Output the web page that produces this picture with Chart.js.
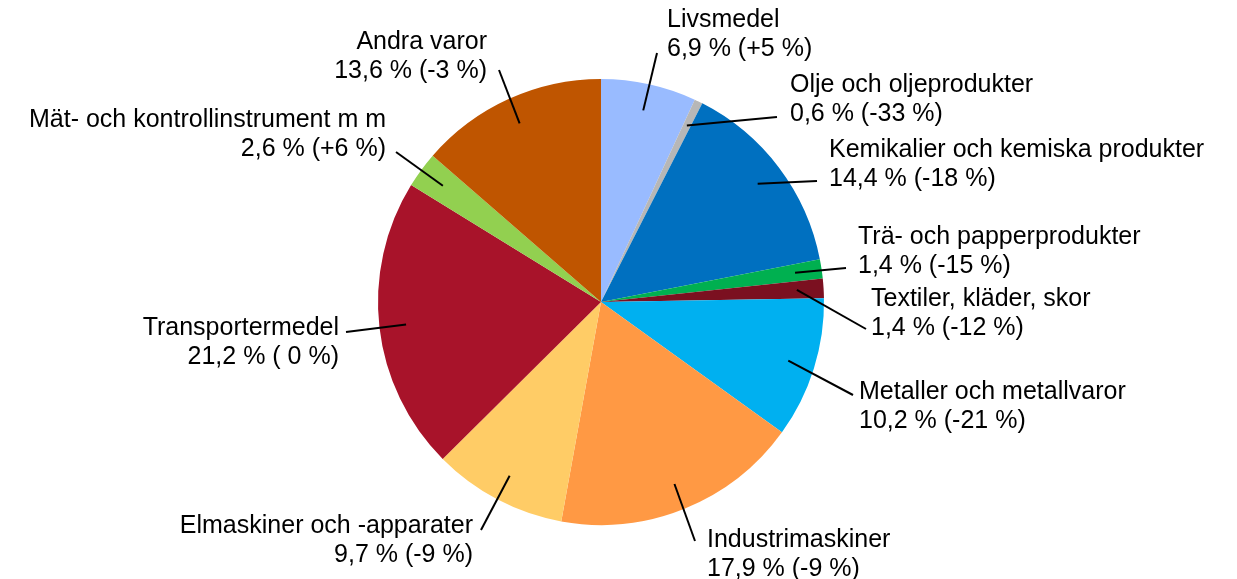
<!DOCTYPE html>
<html lang="sv">
<head>
<meta charset="utf-8">
<title>Varuexport</title>
<script src="https://cdn.jsdelivr.net/npm/chart.js@4/dist/chart.umd.min.js"></script>
<style>
    html, body { margin: 0; padding: 0; background: #fff; }
    #wrap { width: 1237px; height: 579px; }
</style>
</head>
<body>
<div id="wrap"><canvas id="pie" width="1237" height="579"></canvas></div>
<script>
const categories = [
    'Livsmedel',
    'Olje och oljeprodukter',
    'Kemikalier och kemiska produkter',
    'Trä- och papperprodukter',
    'Textiler, kläder, skor',
    'Metaller och metallvaror',
    'Industrimaskiner',
    'Elmaskiner och -apparater',
    'Transportermedel',
    'Mät- och kontrollinstrument m m',
    'Andra varor',
];
const shares = [6.9, 0.6, 14.4, 1.4, 1.4, 10.2, 17.9, 9.7, 21.2, 2.6, 13.6];
const changes = [5, -33, -18, -15, -12, -21, -9, -9, 0, 6, -3];
const colors = ['#99bbff', '#b7b7b7', '#0070c0', '#00b050', '#7b1020', '#00b0f0',
    '#ff9944', '#ffcc66', '#a8132a', '#92d050', '#bf5500'];

// label placement: text anchor x, first line centre y, alignment, leader end point
const labelLayout = [
    { x: 667, y: 20, align: 'left', lx: 657, ly: 53 },
    { x: 790, y: 85, align: 'left', lx: 777, ly: 117 },
    { x: 829, y: 150, align: 'left', lx: 817, ly: 181 },
    { x: 858, y: 237, align: 'left', lx: 846, ly: 268 },
    { x: 871, y: 299, align: 'left', lx: 866, ly: 329 },
    { x: 859, y: 392, align: 'left', lx: 853, ly: 395 },
    { x: 707, y: 540, align: 'left', lx: 695, ly: 541 },
    { x: 473, y: 526, align: 'right', lx: 481, ly: 530 },
    { x: 339, y: 328, align: 'right', lx: 346, ly: 332 },
    { x: 386, y: 120, align: 'right', lx: 396, ly: 152 },
    { x: 487, y: 42, align: 'right', lx: 499, ly: 70 },
];

function formatShare(v) {
    return v.toFixed(1).replace('.', ',') + ' %';
}

function formatChange(v) {
    if (v > 0) return '(+' + v + ' %)';
    if (v < 0) return '(-' + Math.abs(v) + ' %)';
    return '( 0 %)';
}

const leaderLabels = {
    id: 'leaderLabels',
    afterDatasetsDraw(chart) {
        const ctx = chart.ctx;
        const arcs = chart.getDatasetMeta(0).data;
        ctx.save();
        ctx.font = '25px "Liberation Sans", Arial, sans-serif';
        ctx.fillStyle = '#000';
        ctx.strokeStyle = '#000';
        ctx.lineWidth = 2;
        ctx.textBaseline = 'middle';
        arcs.forEach((arc, i) => {
            const p = labelLayout[i];
            const mid = (arc.startAngle + arc.endAngle) / 2;
            const r = arc.outerRadius * 0.88;
            const ix = arc.x + Math.cos(mid) * r;
            const iy = arc.y + Math.sin(mid) * r;
            ctx.beginPath();
            ctx.moveTo(ix, iy);
            ctx.lineTo(p.lx, p.ly);
            ctx.stroke();
            ctx.textAlign = p.align;
            ctx.fillText(categories[i], p.x, p.y);
            ctx.fillText(formatShare(shares[i]) + ' ' + formatChange(changes[i]), p.x, p.y + 29);
        });
        ctx.restore();
    },
};

new Chart(document.getElementById('pie'), {
    type: 'pie',
    data: {
        labels: categories,
        datasets: [{ data: shares, backgroundColor: colors, borderWidth: 0 }],
    },
    options: {
        responsive: false,
        animation: false,
        layout: { padding: { left: 378, right: 413, top: 79, bottom: 54 } },
        plugins: {
            legend: { display: false },
            tooltip: { enabled: false },
        },
    },
    plugins: [leaderLabels],
});
</script>
</body>
</html>
